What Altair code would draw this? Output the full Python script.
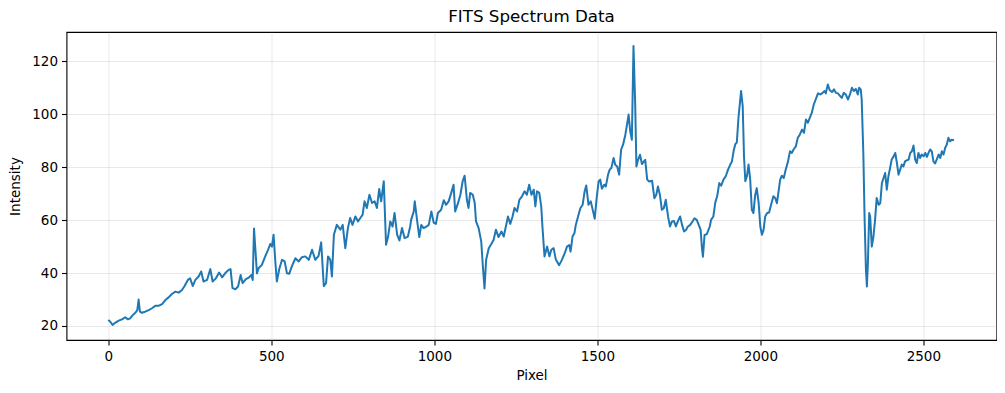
import altair as alt
import pandas as pd

pixel = [
    0, 6, 13, 21, 32, 42, 52, 60, 67, 75, 83, 89, 93, 97, 103, 113, 124, 134, 144, 154,
    165, 175, 185, 195, 206, 216, 226, 234, 244, 251, 259, 267, 277, 285, 292, 303, 313, 320, 330, 340,
    349, 359, 369, 375, 381, 390, 398, 406, 412, 422, 432, 439, 443, 447,
    456, 461, 471, 482, 490, 497, 502, 507, 512, 517, 525, 533, 541, 548, 555, 563, 574, 584, 594, 604,
    615, 625, 635, 645, 653, 661, 668, 674, 681, 686, 692, 701, 712, 719, 727, 735, 742, 749, 758, 766,
    773, 780, 786, 793, 801, 809, 817, 824, 831, 837, 845, 852, 858, 865, 872, 878, 886, 893, 901, 909,
    919, 926,
    929, 937, 940, 947, 954, 960, 967, 974, 983, 991, 998, 1005, 1011, 1021, 1029, 1036, 1044, 1052, 1059, 1064,
    1073, 1080, 1087, 1093, 1100, 1105, 1110, 1118, 1124, 1128, 1136, 1144, 1149, 1154, 1159, 1167, 1175, 1182, 1189, 1197,
    1206, 1213, 1220, 1226, 1233, 1240, 1246, 1254, 1261, 1269, 1277, 1284, 1291, 1298, 1305, 1310, 1315, 1322, 1328, 1332,
    1338, 1346, 1353, 1359, 1366, 1373,
    1383, 1391, 1400, 1407, 1414, 1418, 1424, 1430, 1434, 1441, 1448, 1455, 1461, 1466, 1473, 1480, 1487, 1492, 1498, 1504,
    1509, 1514, 1521, 1526, 1533, 1538, 1543, 1550, 1555, 1561, 1567, 1573, 1579, 1586, 1592, 1596, 1601, 1606, 1611, 1616,
    1620, 1625, 1631, 1637, 1643, 1647, 1653, 1659, 1668, 1675, 1681, 1686, 1692, 1698, 1704, 1710, 1717, 1723, 1729, 1735,
    1741, 1747, 1754, 1760, 1766, 1772, 1778, 1785, 1792, 1798, 1805, 1811, 1817, 1821, 1824, 1829, 1836,
    1845, 1849, 1856, 1862, 1868, 1874, 1880, 1887, 1894, 1901, 1908, 1913, 1918, 1923, 1928, 1933, 1938, 1941, 1946, 1950,
    1954, 1959, 1964, 1969, 1974, 1979, 1984, 1989, 1995, 2000, 2005, 2010, 2015, 2021, 2027, 2033, 2040, 2046, 2051, 2056,
    2061, 2066, 2072, 2078, 2085, 2091, 2097, 2102, 2109, 2115, 2121, 2128, 2134, 2140, 2146, 2152, 2158, 2164, 2170, 2177,
    2184, 2191, 2197, 2201, 2207, 2213, 2220, 2226, 2232, 2238, 2245, 2250, 2256, 2262, 2269, 2275, 2281, 2287, 2293, 2299,
    2303, 2308,
    2311, 2316, 2320, 2324, 2327, 2330, 2334, 2337, 2342, 2347, 2352, 2357, 2363, 2368, 2373, 2378, 2383, 2388, 2393, 2398,
    2403, 2409, 2414, 2419, 2424, 2429, 2434, 2439, 2444, 2449, 2455, 2460, 2465, 2470, 2475, 2480, 2485, 2490, 2495, 2501,
    2506, 2511, 2516, 2521, 2526, 2531, 2536, 2541, 2547, 2552, 2557, 2562, 2567, 2572, 2577, 2582, 2587, 2594,
]

intensity = [
    22.3, 21.6, 20.4, 21.2, 22.0, 22.5, 23.3, 22.5, 22.9, 24.1, 25.0, 26.0, 30.0, 25.4, 25.0, 25.4, 26.0, 26.7, 27.6, 27.6,
    28.3, 29.8, 30.8, 32.1, 33.0, 32.6, 33.6, 35.1, 37.4, 38.0, 35.1, 37.4, 38.7, 40.6, 36.8, 37.4, 41.5, 36.8, 38.0, 40.2,
    38.4, 40.0, 41.2, 41.5, 34.3, 33.9, 34.9, 39.3, 36.2, 37.7, 38.4, 39.3, 37.4, 56.8,
    39.9, 41.8, 43.1, 46.5, 48.8, 51.0, 50.0, 54.5, 45.0, 36.8, 41.8, 45.0, 44.4, 39.9, 39.7, 42.5, 45.6, 44.4, 46.0, 46.3,
    45.0, 48.8, 45.0, 46.5, 51.6, 35.1, 36.2, 46.3, 45.0, 38.7, 54.5, 58.2, 56.4, 58.2, 49.4, 57.0, 60.8, 58.2, 61.4, 59.5,
    60.8, 62.0, 67.1, 64.6, 69.6, 66.5, 67.1, 64.6, 71.8, 67.1, 74.7, 50.7, 53.6, 59.5, 57.6, 62.7, 54.5, 52.3, 57.0, 53.2,
    53.8, 57.6,
    60.1, 63.3, 67.1, 60.1, 53.6, 58.2, 57.0, 57.4, 58.2, 63.3, 59.1, 58.6, 62.7, 63.9, 67.5, 65.8, 67.1, 70.3, 73.4, 63.3,
    66.5, 69.6, 74.7, 76.8, 67.7, 64.6, 70.3, 69.6, 66.5, 59.5, 57.0, 51.9, 42.5, 34.2, 45.0, 49.4, 51.0, 52.6, 56.4, 53.6,
    55.7, 53.8, 57.9, 61.4, 58.6, 61.4, 64.6, 63.3, 67.7, 69.0, 70.9, 69.6, 73.4, 69.6, 71.5, 65.2, 70.9, 70.3, 65.2, 57.0,
    46.3, 50.0, 46.3, 48.8, 49.4, 45.0,
    43.0, 44.9, 47.5, 50.0, 50.6, 48.1, 53.8, 55.1, 58.2, 61.4, 64.5, 65.8, 70.8, 73.1, 65.8, 67.1, 63.3, 60.5, 68.3, 74.6,
    75.3, 71.9, 73.4, 72.7, 77.2, 79.1, 79.7, 83.5, 80.9, 80.3, 77.2, 86.6, 88.5, 92.3, 96.7, 99.9, 93.6, 90.4, 125.8, 104.9,
    80.3, 82.8, 84.7, 81.2, 82.2, 82.8, 75.3, 74.6, 74.9, 68.3, 69.6, 72.7, 69.6, 63.9, 64.5, 67.7, 61.4, 57.6, 59.5, 59.7,
    57.6, 59.5, 61.4, 58.2, 55.7, 56.3, 57.6, 58.2, 59.5, 60.7, 60.1, 58.2, 56.3, 49.4, 46.2, 54.4, 54.7,
    57.6, 60.1, 61.4, 66.7, 69.2, 74.0, 73.0, 75.3, 76.6, 79.1, 81.0, 82.2, 86.0, 88.6, 89.4, 98.7, 105.0, 108.8, 103.1, 84.1,
    74.7, 76.6, 81.0, 75.3, 63.9, 62.7, 69.2, 72.1, 66.4, 57.6, 54.5, 56.3, 61.4, 62.7, 62.9, 65.8, 69.0, 68.3, 66.4, 70.9,
    75.3, 76.8, 75.9, 79.1, 82.2, 86.0, 85.4, 86.7, 87.9, 91.1, 92.3, 94.2, 93.0, 98.0, 96.8, 98.7, 100.6, 103.7, 105.6, 107.9,
    107.5, 108.1, 108.8, 107.9, 111.3, 109.1, 108.4, 109.4, 108.1, 107.9, 106.9, 106.2, 108.1, 107.5, 105.6, 107.5, 110.0, 108.8, 109.6, 107.5,
    110.0, 109.4,
    105.6, 85.4, 60.1, 41.2, 34.9, 43.7, 62.7, 61.4, 50.0, 53.8, 60.1, 68.4, 65.8, 66.4, 74.0, 75.9, 77.8, 71.5, 76.6, 79.7,
    82.9, 84.1, 85.4, 81.6, 77.2, 79.1, 81.0, 80.3, 82.2, 82.6, 82.9, 85.4, 86.0, 88.2, 82.9, 81.6, 85.4, 83.5, 84.8, 84.1,
    85.4, 83.9, 85.4, 86.7, 86.0, 82.2, 81.4, 82.9, 84.8, 83.5, 86.0, 84.8, 87.3, 88.6, 91.1, 89.8, 90.4, 90.2,
]

x_ticks = [0, 500, 1000, 1500, 2000, 2500]
y_ticks = [20, 40, 60, 80, 100, 120]

df = pd.DataFrame({"Pixel": pixel, "Intensity": intensity})

FONT = "DejaVu Sans"

chart = (
    alt.Chart(df)
    .mark_line(color="#1f77b4", strokeWidth=2, strokeJoin="round", clip=True)
    .encode(
        x=alt.X(
            "Pixel:Q",
            scale=alt.Scale(domain=[-128.2, 2724.5], nice=False, zero=False),
            axis=alt.Axis(values=x_ticks, title="Pixel", format="d", labelPadding=4, titlePadding=6),
        ),
        y=alt.Y(
            "Intensity:Q",
            scale=alt.Scale(domain=[14.7, 131.1], nice=False, zero=False),
            axis=alt.Axis(values=y_ticks, title="Intensity", format="d", labelPadding=4, titlePadding=9),
        ),
    )
    .properties(
        width=930,
        height=308,
        title=alt.TitleParams(
            "FITS Spectrum Data", font=FONT, fontSize=16.7, fontWeight="normal",
            color="black", anchor="middle", offset=6,
        ),
        autosize=alt.AutoSizeParams(type="none"),
        padding={"left": 58.5, "top": 24, "right": 0, "bottom": 44},
    )
    .configure(background="white")
    .configure_view(stroke="black", strokeWidth=1.1)
    .configure_axis(
        domain=False,
        grid=True,
        gridColor="#b0b0b0",
        gridOpacity=0.35,
        gridWidth=0.8,
        ticks=True,
        tickColor="black",
        tickSize=5,
        tickWidth=1.1,
        labelFont=FONT,
        labelFontSize=13.5,
        labelColor="black",
        titleFont=FONT,
        titleFontSize=13.5,
        titleFontWeight="normal",
        titleColor="black",
    )
)

chart.save("out.html", embed_options={"renderer": "svg", "actions": False})
